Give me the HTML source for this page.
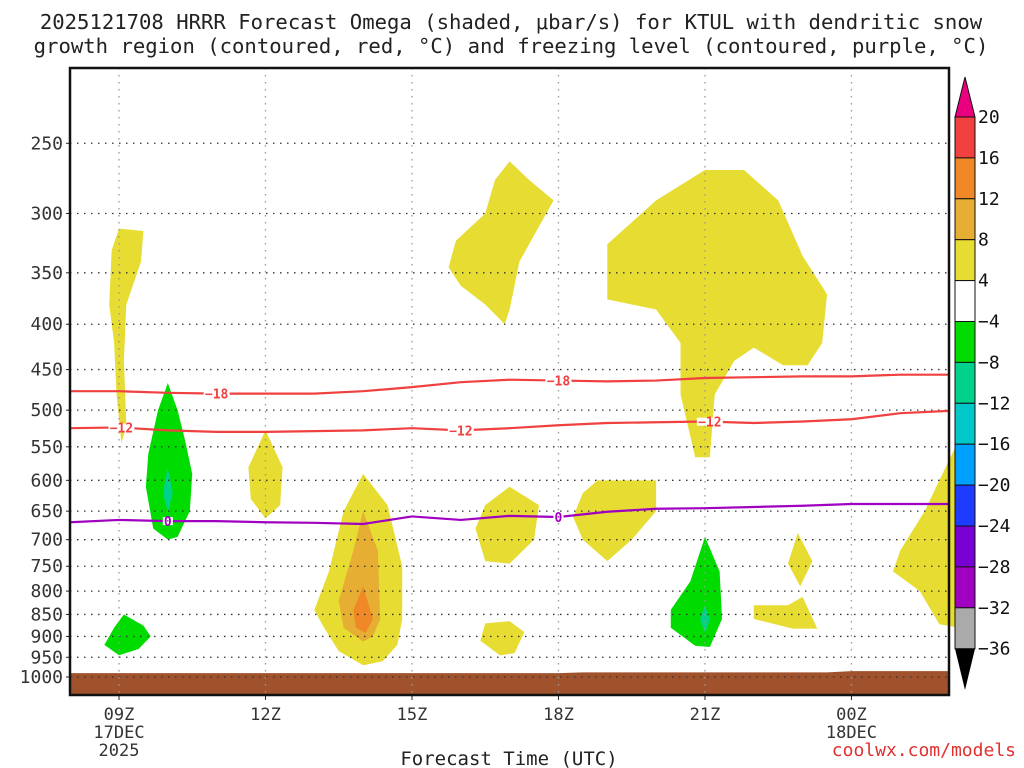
<!DOCTYPE html>
<html><head><meta charset="utf-8"><style>
html,body{margin:0;padding:0;background:#fff;}
svg{display:block;font-family:"DejaVu Sans Mono","Liberation Mono",monospace;}
</style></head><body>
<svg id="chart" width="1024" height="768" viewBox="0 0 1024 768">
<text x="511" y="29" font-size="20.6" text-anchor="middle" fill="#222">2025121708 HRRR Forecast Omega (shaded, μbar/s) for KTUL with dendritic snow</text>
<text x="511" y="53" font-size="20.6" text-anchor="middle" fill="#222">growth region (contoured, red, °C) and freezing level (contoured, purple, °C)</text>
<g id="plot"></g>
<text x="509" y="765" font-size="19" text-anchor="middle" fill="#222">Forecast Time (UTC)</text>
<text x="1016" y="756" font-size="18" text-anchor="end" fill="#e03030">coolwx.com/models</text>
</svg>
<script>
const NS="http://www.w3.org/2000/svg";
const pLevels=[250,300,350,400,450,500,550,600,650,700,750,800,850,900,950,1000];
const xTickHours=[9,12,15,18,21,24];
const xTickLabels=[["09Z","17DEC","2025"],["12Z"],["15Z"],["18Z"],["21Z"],["00Z","18DEC"]];
const lineHours=[8,9,10,11,12,13,14,15,16,17,18,19,20,21,22,23,24,25,26];
const iso18=[476,476,478,479,479,479,476,471,465,462,463,464,463,460,459,458,458,456,456];
const iso12=[524,523,527,529,529,528,527,524,527,524,520,517,516,515,517,515,512,504,501];
const iso0=[669,665,667,667,669,670,672,659,665,658,660,651,646,645,643,641,638,638,638];
const surfHours=[8,18,18.5,23.5,24,26.1];
const surfP=[990,990,988,988,985,985];
const blobYellow=[
[[8.85,330],[9.0,312],[9.5,314],[9.45,340],[9.15,380],[9.1,440],[9.15,520],[9.05,545],[8.95,480],[8.9,420],[8.8,380]],
[[12.0,527],[12.35,580],[12.3,640],[12.0,662],[11.7,630],[11.65,580]],
[[14.0,590],[14.5,640],[14.8,750],[14.8,860],[14.7,920],[14.4,960],[14.0,970],[13.5,935],[13.2,880],[13.0,840],[13.3,760],[13.6,650]],
[[17.0,262],[17.4,275],[17.9,290],[17.2,340],[17.0,385],[16.9,400],[16.5,380],[16.0,362],[15.75,345],[15.9,322],[16.5,300],[16.7,275]],
[[17.0,610],[17.6,640],[17.5,700],[17.0,745],[16.5,740],[16.3,680],[16.5,640]],
[[16.5,870],[17.0,865],[17.3,890],[17.1,940],[16.8,945],[16.4,910]],
[[18.8,600],[20.0,600],[20.0,650],[19.5,700],[19.0,740],[18.5,700],[18.3,660],[18.5,620]],
[[19.0,325],[20.0,290],[21.0,268],[21.8,268],[22.5,290],[23.0,335],[23.5,370],[23.4,420],[23.1,445],[22.6,445],[22.0,425],[21.6,440],[21.2,480],[21.1,565],[20.8,565],[20.5,480],[20.5,420],[20.0,385],[19.0,375]],
[[22.9,688],[23.2,740],[22.95,790],[22.7,745]],
[[22.0,830],[22.7,830],[23.0,812],[23.3,882],[22.8,882],[22.0,860]],
[[25.0,720],[25.5,650],[25.8,600],[26.2,540],[26.2,880],[25.8,872],[25.4,800],[24.85,760]]];
const blobGold=[[[14.0,650],[14.3,720],[14.35,860],[14.2,900],[14.0,912],[13.6,880],[13.5,820],[13.8,720]]];
const blobOrange=[[[14.0,790],[14.2,860],[14.05,892],[13.85,880],[13.8,840]]];
const blobGreen=[
[[10.0,466],[10.2,500],[10.35,540],[10.5,590],[10.45,650],[10.2,695],[10.0,700],[9.7,680],[9.55,610],[9.6,560],[9.8,500]],
[[8.9,880],[9.1,850],[9.5,875],[9.65,900],[9.4,930],[9.0,945],[8.7,920]],
[[21.0,695],[21.3,760],[21.35,860],[21.1,925],[20.8,922],[20.3,880],[20.3,840],[20.7,780]]];
const blobTeal=[[[10.0,580],[10.1,620],[10.0,652],[9.9,620]],[[21.0,830],[21.1,860],[21.0,892],[20.9,860]]];
const cbLabels=["20","16","12","8","4","−4","−8","−12","−16","−20","−24","−28","−32","−36"];
const cbColors=["#f04040","#f08828","#e6ae33","#e6dc32","#ffffff","#00dc00","#00d28c","#00c8c8","#00a0ff","#1e3cff","#7800d2","#a000c0","#aaaaaa"];

const L=70,R=949,T=68,B=695;
const xs=h=>119+(h-9)*48.83;
const ys=p=>677-385*Math.log(1000/p);
const g=document.getElementById('plot');
function el(t,a,parent){const e=document.createElementNS(NS,t);for(const k in a)e.setAttribute(k,a[k]);(parent||g).appendChild(e);return e;}
function poly(pts,fill,name){const e=el('polygon',{points:pts.map(q=>xs(q[0])+','+ys(q[1])).join(' '),fill:fill});

}
blobYellow.forEach(b=>poly(b,'#e6dc32','omega-4-8'));
blobGold.forEach(b=>poly(b,'#e6ae33','omega-8-12'));
blobOrange.forEach(b=>poly(b,'#f08828','omega-12-16'));
blobGreen.forEach(b=>poly(b,'#00dc00','omega-neg4-neg8'));
blobTeal.forEach(b=>poly(b,'#00d28c','omega-neg8-neg12'));
let sp='M'+L+','+B;surfHours.forEach((h,i)=>{sp+=' L'+Math.max(L,Math.min(R,xs(h)))+','+ys(surfP[i]);});sp+=' L'+R+','+B+'Z';
const s=el('path',{d:sp,fill:'#a0522d'});


pLevels.forEach(p=>{const y=ys(p);
const l=el('line',{x1:L,x2:R,y1:y,y2:y,stroke:'#333','stroke-width':1.3,'stroke-dasharray':'1.5,5.5'});


el('line',{x1:L-4,x2:L,y1:y,y2:y,stroke:'#222'});
const t=el('text',{x:L-7,y:y+6,'font-size':18,'text-anchor':'end',fill:'#333'});t.textContent=p;

});
xTickHours.forEach((h,i)=>{const x=xs(h);
const l=el('line',{x1:x,x2:x,y1:T,y2:B,stroke:'#999','stroke-width':1.3,'stroke-dasharray':'1.5,5.5'});


el('line',{x1:x,x2:x,y1:B,y2:B+5,stroke:'#222'});
xTickLabels[i].forEach((s,j)=>{const t=el('text',{x:x,y:720+j*18,'font-size':17,'text-anchor':'middle',fill:'#333'});t.textContent=s;

});});
function iso(arr,color,lab,labHours,name){let d='';lineHours.forEach((h,i)=>{d+=(i?' L':'M')+xs(h)+','+ys(arr[i]);});
const p=el('path',{d:d,fill:'none',stroke:color,'stroke-width':2.2});


labHours.forEach(h=>{let i=lineHours.findIndex(v=>v>h)-1;const f=h-lineHours[i];const pv=arr[i]+(arr[i+1]-arr[i])*f;
const x=xs(h),y=ys(pv);const w=lab.length*8+2;el('rect',{x:x-w/2,y:y-4,width:w,height:8,fill:'#fff'});
const t=el('text',{x:x,y:y+5,'font-size':13,'font-weight':'bold','text-anchor':'middle',fill:color});t.textContent=lab;

});}
iso(iso18,'#f04040','−18',[11,18],'isotherm-minus18');
iso(iso12,'#f04040','−12',[9.05,16.0,21.1],'isotherm-minus12');
iso(iso0,'#a000c0','0',[10,18],'freezing-level');
const fr=el('rect',{x:L,y:T,width:R-L,height:B-T,fill:'none',stroke:'#111','stroke-width':2.5});


const cb=el('g',{},document.getElementById('chart'));


const cy=i=>117+i*40.9;
el('polygon',{points:`955,${cy(0)} 975,${cy(0)} 965,77`,fill:'#e8007f',stroke:'#111'},cb);
cbColors.forEach((c,i)=>{el('rect',{x:955,y:cy(i),width:20,height:40.9,fill:c,stroke:'#111','stroke-width':1},cb);});
el('polygon',{points:`955,${cy(13)} 975,${cy(13)} 965,690`,fill:'#000'},cb);
cbLabels.forEach((s,i)=>{const t=el('text',{x:978,y:cy(i)+6,'font-size':18,fill:'#111'},cb);t.textContent=s;

});
</script>
</body></html>
